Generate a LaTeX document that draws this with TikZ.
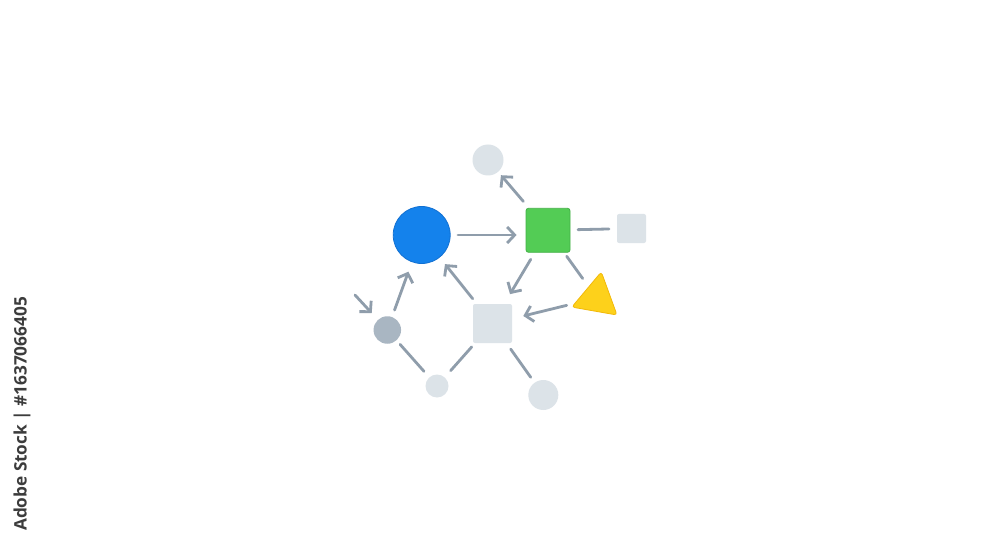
\documentclass[tikz,border=0pt]{standalone}
\usepackage{fontspec}
\newfontfamily\wmfont{Open Sans}
\usetikzlibrary{arrows.meta,shapes.geometric}
\definecolor{linec}{HTML}{8F9DAB}
\definecolor{bluef}{HTML}{1482EC}
\definecolor{blued}{HTML}{1170D2}
\definecolor{greenf}{HTML}{53CC55}
\definecolor{greend}{HTML}{44B047}
\definecolor{yellowf}{HTML}{FDD11B}
\definecolor{yellowd}{HTML}{F2B90A}
\definecolor{lightf}{HTML}{DCE3E8}
\definecolor{grayf}{HTML}{A9B6C2}
\definecolor{textc}{HTML}{3C3C3C}
\tikzset{
  conn/.style={draw=linec, line width=2.8pt, line cap=round},
  arr/.style={conn, -{Straight Barb[length=7.5pt,width=16pt]}},
  dot/.style={circle, inner sep=0pt, fill=lightf},
  sq/.style={rectangle, rounded corners=2pt, inner sep=0pt, fill=lightf},
}
\begin{document}
\begin{tikzpicture}[x=1pt,y=-1pt]
\useasboundingbox[fill=white] (0,0) rectangle (1000,545);
% nodes
\node[circle, inner sep=0pt, minimum size=57pt, fill=bluef, draw=blued, line width=0.8pt] (blue) at (421.7,235) {};
\node[rectangle, rounded corners=2.5pt, inner sep=0pt, minimum size=44pt, fill=greenf, draw=greend, line width=0.8pt] (green) at (548,230.3) {};
\node[dot, minimum size=31pt] (top) at (488,160) {};
\node[sq, minimum size=29pt] (rsq) at (631.5,228.5) {};
\node[regular polygon, regular polygon sides=3, shape border rotate=-10, inner sep=0pt, minimum size=53pt, fill=yellowf, draw=yellowd, line width=0.8pt, rounded corners=3pt] (tri) at (596.7,298) {};
\node[sq, minimum size=39pt] (mid) at (492.5,323.5) {};
\node[circle, inner sep=0pt, minimum size=27.5pt, fill=grayf] (gray) at (387.3,330) {};
\node[dot, minimum size=23pt] (bc) at (437,386) {};
\node[dot, minimum size=30pt] (br) at (543.3,395) {};
\coordinate (free) at (355,295);
% connectors
\draw[arr, shorten <=38pt, shorten >=20pt] (green.center) -- (top.center);
\draw[arr, shorten <=36.3pt, shorten >=9pt] (blue.center) -- (green.west |- blue.center);
\draw[conn, shorten <=30pt, shorten >=22.5pt] (green.center) -- (rsq.center);
\draw[arr, shorten <=33.8pt, shorten >=34.2pt] (green.center) -- (mid.center);
\draw[conn, shorten <=32pt, shorten >=24pt] (green.center) -- (tri.center);
\draw[arr, shorten <=30.9pt, shorten >=31.7pt] (tri.center) -- (mid.center);
\draw[arr, shorten <=31.7pt, shorten >=37.3pt] (mid.center) -- (blue.center);
\draw[arr, shorten <=21.2pt, shorten >=39pt] (gray.center) -- (blue.center);
\draw[arr, shorten >=23pt] (free) -- (gray.center);
\draw[conn, shorten <=19.2pt, shorten >=19.6pt] (gray.center) -- (bc.center);
\draw[conn, shorten <=20.6pt, shorten >=31.3pt] (bc.center) -- (mid.center);
\draw[conn, shorten <=31.4pt, shorten >=21.7pt] (mid.center) -- (br.center);
% vertical watermark text
\node[rotate=90, inner sep=0pt, text=textc, font=\wmfont\bfseries\fontsize{17.2}{20}\selectfont] (wm) at (22,414) {Adobe Stock | \#1637066405};
\end{tikzpicture}
\end{document}
